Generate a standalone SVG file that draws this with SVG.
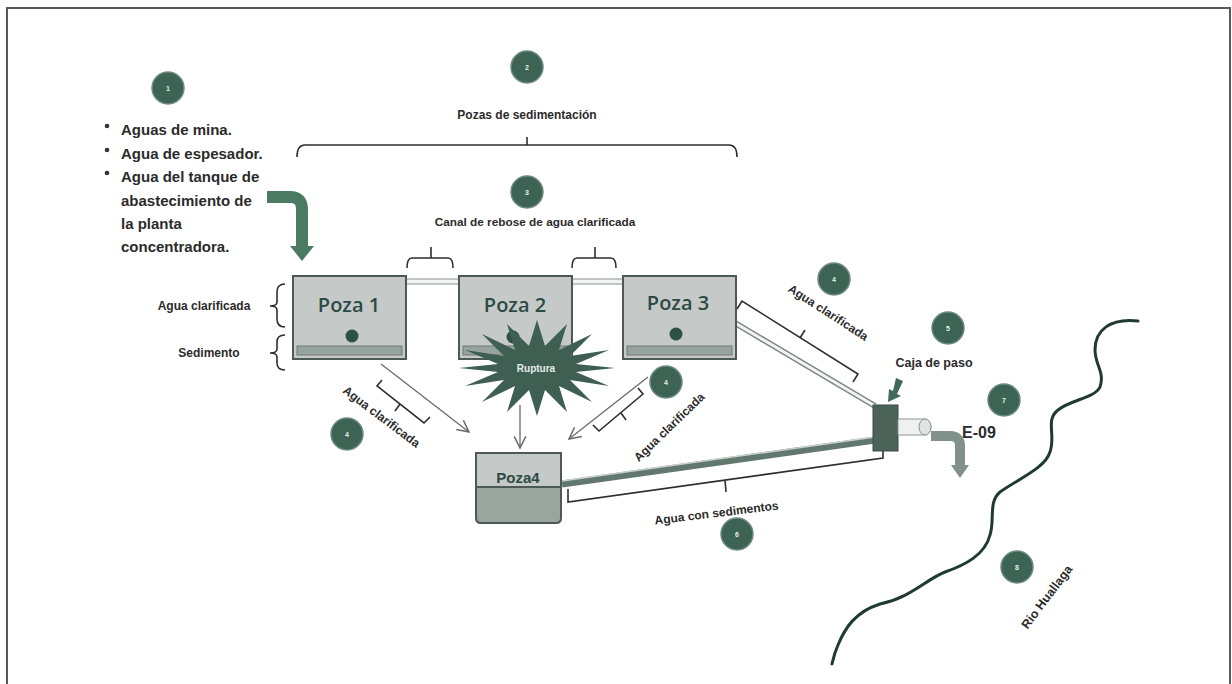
<svg xmlns="http://www.w3.org/2000/svg" width="1232" height="684" viewBox="0 0 1232 684">
<defs>
<style>
.lbl{font-family:"Liberation Sans",Arial,sans-serif;font-weight:700;fill:#2b2b2b}
.num{font-family:"Liberation Sans",Arial,sans-serif;font-weight:700;font-size:7px;fill:#e8efe9;text-anchor:middle}
.circ{fill:#3d6354;stroke:#6f8b80;stroke-width:1.5}
.poza{fill:#c5c9c8;stroke:#4c5a55;stroke-width:2}
.sed{fill:#97a39e;stroke:#6c7a74;stroke-width:1}
.pz{font-family:"Open Sans","Liberation Sans",sans-serif;font-weight:600;font-size:20px;fill:#2d4a44;text-anchor:middle}
.dot{fill:#2c5144}
.br{fill:none;stroke:#2e2e2e;stroke-width:1.6}
.arr{fill:none;stroke:#6a6a6a;stroke-width:1.3}
</style>
<marker id="chev" viewBox="0 0 12 12" refX="11" refY="6" markerWidth="14" markerHeight="14" markerUnits="userSpaceOnUse" orient="auto">
<path d="M1,1 L11,6 L1,11" fill="none" stroke="#6a6a6a" stroke-width="1.3"/>
</marker>
</defs>
<rect x="0" y="0" width="1232" height="684" fill="#ffffff"/>
<rect x="7" y="8" width="1223" height="690" fill="none" stroke="#555a5e" stroke-width="2"/>

<g id="connectors">
<!-- inlet arrow -->
<path d="M267,197 H290 Q302,197 302,209 V247" fill="none" stroke="#4b7a63" stroke-width="12"/>
<polygon points="290,246 314,246 302,261" fill="#4b7a63"/>
<!-- canals -->
<rect x="406" y="279" width="53" height="5" fill="#f2f4f3" stroke="#8a9490" stroke-width="1"/>
<rect x="572" y="279" width="51" height="5" fill="#f2f4f3" stroke="#8a9490" stroke-width="1"/>
<!-- pipe poza3 -> caja -->
<line x1="735" y1="323" x2="875" y2="406" stroke="#7d8884" stroke-width="6"/>
<line x1="735" y1="323" x2="875" y2="406" stroke="#f3f5f4" stroke-width="3"/>
<!-- pipe poza4 -> caja -->
<line x1="562" y1="484" x2="875" y2="440" stroke="#62786e" stroke-width="7"/>
<line x1="562" y1="481" x2="875" y2="437" stroke="#c9d1cd" stroke-width="1.5"/>
<!-- flow arrows -->
<line class="arr" x1="381" y1="364" x2="469" y2="432" marker-end="url(#chev)"/>
<line class="arr" x1="648" y1="377" x2="569" y2="439" marker-end="url(#chev)"/>
<line class="arr" x1="520" y1="405" x2="520" y2="448" marker-end="url(#chev)"/>
<!-- E-09 outlet arrow -->
<path d="M931,436 H950 Q960,436 960,446 V466" fill="none" stroke="#7f9189" stroke-width="10"/>
<polygon points="951,465 969,465 960,478" fill="#7f9189"/>
<!-- small arrow to caja -->
<polygon points="896,378 903,381 897,394 901,396 888,402 889,389 893,391" fill="#3f6a58"/>
</g>

<g id="frame-braces">
<path class="br" d="M297,157 Q297,145 305,145 H527 V137 M527,145 H729 Q737,145 737,157"/>
<path class="br" d="M407,268 Q407,258 412,258 H431 V247 M431,258 H448 Q453,258 453,268"/>
<path class="br" d="M572,268 Q572,258 577,258 H595 V247 M595,258 H611 Q616,258 616,268"/>
<path class="br" d="M285,284 Q277,284 277,292 V302 Q277,306 270,306 Q277,306 277,310 V319 Q277,327 285,327"/>
<path class="br" d="M285,335 Q277,335 277,342 V349 Q277,353 270,353 Q277,353 277,357 V363 Q277,370 285,370"/>
<!-- bracket along poza1 arrow -->
<path class="br" d="M382,380 L377,386 L424,423 L430,417 M400,404 L395,411"/>
<!-- bracket along poza3 arrow -->
<path class="br" d="M638,388 L643,394 L599,431 L593,425 M621,413 L626,420"/>
<!-- bracket along pipe poza3 -> caja -->
<path class="br" d="M737,309 L742,301 L858,374 L853,382 M800,338 L805,330"/>
<!-- bracket under pipe poza4 -> caja -->
<path class="br" d="M568,489 V502 L883,458 V446 M725,480 L726,492"/>
</g>

<g id="poza1">
<rect class="poza" x="293" y="276" width="113" height="83"/>
<rect class="sed" x="297" y="346" width="105" height="9"/>
<text class="pz" x="349" y="312">Poza 1</text>
<circle class="dot" cx="352" cy="336" r="6.5"/>
</g>
<g id="poza2">
<rect class="poza" x="459" y="276" width="113" height="83"/>
<rect class="sed" x="463" y="346" width="105" height="9"/>
<text class="pz" x="515" y="312">Poza 2</text>
<circle class="dot" cx="513" cy="337" r="6.5"/>
</g>
<g id="poza3">
<rect class="poza" x="623" y="276" width="113" height="83"/>
<rect class="sed" x="627" y="346" width="105" height="9"/>
<text class="pz" x="678" y="310">Poza 3</text>
<circle class="dot" cx="676" cy="334" r="6.5"/>
</g>

<g id="ruptura">
<polygon fill="#3f5f53" points="615,368 576,372 609,386 570,380 592,402 559,386 567,412 545,390 537,416 529,390 507,412 515,386 482,402 504,380 465,386 498,372 459,368 498,364 465,350 504,356 482,334 515,350 507,324 529,346 537,320 545,346 567,324 559,350 592,334 570,356 609,350 576,364"/>
<text x="536" y="372" font-family="Liberation Sans,Arial,sans-serif" font-weight="700" font-size="10" fill="#e6ece9" text-anchor="middle">Ruptura</text>
</g>

<g id="poza4">
<path d="M476,487 V518 Q476,523 481,523 H556 Q561,523 561,518 V487 Z" fill="#9aa5a0" stroke="#4c5a55" stroke-width="2"/>
<path d="M476,487 V453 H561 V487 Z" fill="#c5c9c8" stroke="#4c5a55" stroke-width="2"/>
<text x="518" y="483" font-family="Liberation Sans,Arial,sans-serif" font-weight="700" font-size="15" fill="#2d4a44" text-anchor="middle">Poza4</text>
</g>

<g id="caja">
<rect x="873" y="405" width="25" height="46" fill="#4b6359" stroke="#3a4d45" stroke-width="1"/>
<path d="M898,419 H925 A6,8 0 0 1 925,435 H898 Z" fill="#eef1f0" stroke="#8b9591" stroke-width="1"/>
<ellipse cx="925" cy="427" rx="6" ry="8" fill="#dfe4e2" stroke="#8b9591" stroke-width="1"/>
<text class="lbl" x="934" y="367" font-size="12.5" text-anchor="middle">Caja de paso</text>
<text class="lbl" x="979" y="438" font-size="16" text-anchor="middle">E-09</text>
</g>

<g id="rio">
<path d="M1138,321 C1110,318 1095,330 1095,350 C1095,365 1105,372 1100,387 C1095,398 1070,400 1058,410 C1045,420 1056,435 1050,452 C1045,468 1020,478 1000,492 C988,502 995,520 990,535 C985,555 965,565 945,572 C925,580 910,598 880,604 C855,612 845,628 838,645 C834,654 833,660 832,664" fill="none" stroke="#1f3a33" stroke-width="3" stroke-linecap="round"/>
<text class="lbl" x="1047" y="601" font-size="12.5" text-anchor="middle" transform="rotate(-53 1047 597)">Rio Huallaga</text>
</g>

<g id="labels">
<circle cx="107" cy="126" r="2.3" fill="#333"/>
<circle cx="107" cy="150" r="2.3" fill="#333"/>
<circle cx="107" cy="173" r="2.3" fill="#333"/>
<text class="lbl" x="121" y="135" font-size="15">Aguas de mina.</text>
<text class="lbl" x="121" y="159" font-size="15">Agua de espesador.</text>
<text class="lbl" x="121" y="182" font-size="15">Agua del tanque de</text>
<text class="lbl" x="121" y="206" font-size="15">abastecimiento de</text>
<text class="lbl" x="121" y="229" font-size="15">la planta</text>
<text class="lbl" x="121" y="252" font-size="15">concentradora.</text>
<text class="lbl" x="527" y="119" font-size="12" text-anchor="middle">Pozas de sedimentación</text>
<text class="lbl" x="535" y="226" font-size="11.8" text-anchor="middle">Canal de rebose de agua clarificada</text>
<text class="lbl" x="204" y="310" font-size="12" text-anchor="middle">Agua clarificada</text>
<text class="lbl" x="209" y="357" font-size="12" text-anchor="middle">Sedimento</text>
<text class="lbl" font-size="12" text-anchor="middle" transform="translate(379,420) rotate(37)">Agua clarificada</text>
<text class="lbl" font-size="12" text-anchor="middle" transform="translate(672,430) rotate(-44)">Agua clarificada</text>
<text class="lbl" font-size="12" text-anchor="middle" transform="translate(826,316) rotate(33)">Agua clarificada</text>
<text class="lbl" font-size="12" text-anchor="middle" transform="translate(717,517) rotate(-7)">Agua con sedimentos</text>
</g>

<g id="markers">
<g id="m1"><circle class="circ" cx="168" cy="88" r="16"/><text class="num" x="168" y="90.5">1</text></g>
<g id="m2"><circle class="circ" cx="527" cy="67" r="16"/><text class="num" x="527" y="69.5">2</text></g>
<g id="m3"><circle class="circ" cx="527" cy="192" r="16"/><text class="num" x="527" y="194.5">3</text></g>
<g id="m4a"><circle class="circ" cx="834" cy="279" r="16"/><text class="num" x="834" y="281.5">4</text></g>
<g id="m4b"><circle class="circ" cx="347" cy="434" r="16"/><text class="num" x="347" y="436.5">4</text></g>
<g id="m4c"><circle class="circ" cx="666" cy="382" r="16"/><text class="num" x="666" y="384.5">4</text></g>
<g id="m5"><circle class="circ" cx="948" cy="328" r="16"/><text class="num" x="948" y="330.5">5</text></g>
<g id="m6"><circle class="circ" cx="737" cy="534" r="16"/><text class="num" x="737" y="536.5">6</text></g>
<g id="m7"><circle class="circ" cx="1004" cy="400" r="16"/><text class="num" x="1004" y="402.5">7</text></g>
<g id="m8"><circle class="circ" cx="1017" cy="567" r="16"/><text class="num" x="1017" y="569.5">8</text></g>
</g>
</svg>
